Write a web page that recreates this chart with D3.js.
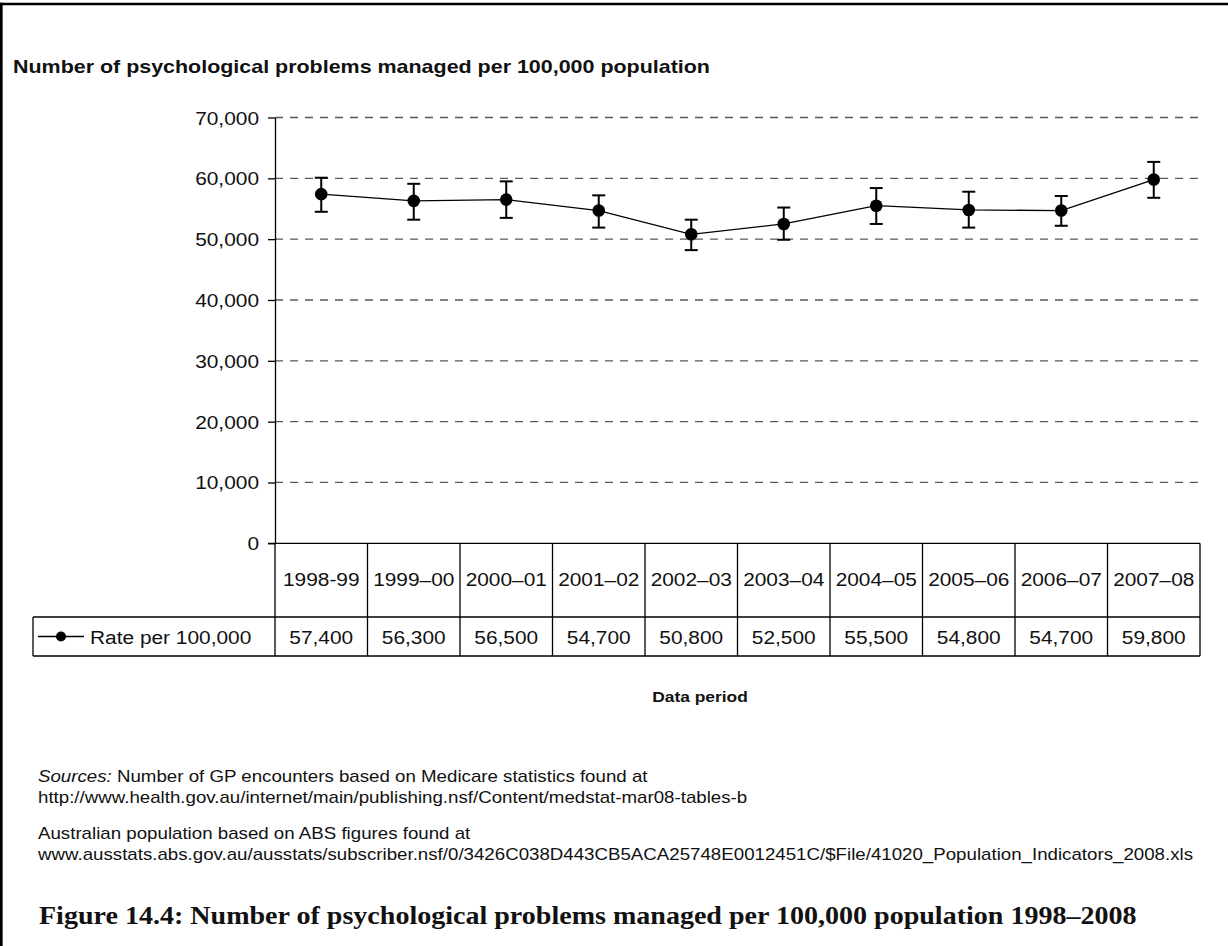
<!DOCTYPE html>
<html>
<head>
<meta charset="utf-8">
<script src="https://cdn.jsdelivr.net/npm/d3@7"></script>
<style>
  html, body { margin: 0; padding: 0; background: #fff; }
  svg { display: block; }
  text { font-family: "Liberation Sans", Arial, sans-serif; fill: #111; }
</style>
</head>
<body>
<svg id="chart" width="1228" height="946"></svg>
<script>
// Data period categories
const periods = ["1998-99", "1999–00", "2000–01", "2001–02", "2002–03",
                 "2003–04", "2004–05", "2005–06", "2006–07", "2007–08"];
// Rate per 100,000 population
const rates = [57400, 56300, 56500, 54700, 50800, 52500, 55500, 54800, 54700, 59800];
// Upper and lower 95% confidence limits
const upper = [60100, 59100, 59500, 57200, 53200, 55200, 58400, 57800, 57100, 62700];
const lower = [54500, 53200, 53500, 51900, 48200, 49900, 52500, 51900, 52200, 56800];
// Y axis ticks
const yTicks = [0, 10000, 20000, 30000, 40000, 50000, 60000, 70000];

const seriesName = "Rate per 100,000";
const chartTitle = "Number of psychological problems managed per 100,000 population";
const xTitle = "Data period";
const caption = "Figure 14.4: Number of psychological problems managed per 100,000 population 1998–2008";
const src1 = ["Sources:", " Number of GP encounters based on Medicare statistics found at"];
const src2 = "http://www.health.gov.au/internet/main/publishing.nsf/Content/medstat-mar08-tables-b";
const src3 = "Australian population based on ABS figures found at";
const src4 = "www.ausstats.abs.gov.au/ausstats/subscriber.nsf/0/3426C038D443CB5ACA25748E0012451C/$File/41020_Population_Indicators_2008.xls";

const svg = d3.select("#chart");
const SX = 1.16;           // horizontal stretch of the sans-serif lettering
const fmt = d3.format(",");

// Frame (top and left rules)
svg.append("line").attr("x1", 0).attr("x2", 1228).attr("y1", 4).attr("y2", 4)
  .attr("stroke", "#000").attr("stroke-width", 2.7);
svg.append("line").attr("x1", 1.3).attr("x2", 1.3).attr("y1", 2.7).attr("y2", 946)
  .attr("stroke", "#000").attr("stroke-width", 2.7);

// helper: stretched text
function label(parent, str, x, y, size, opts = {}) {
  const t = parent.append("text")
    .attr("transform", `translate(${x},${y}) scale(${opts.sx || SX},1)`)
    .attr("font-size", size)
    .attr("text-anchor", opts.anchor || "start");
  if (opts.weight) t.attr("font-weight", opts.weight);
  if (opts.family) t.style("font-family", opts.family);
  if (opts.style) t.attr("font-style", opts.style);
  t.text(str);
  return t;
}

// Scales
const x = d3.scaleBand().domain(periods).range([275, 1200]).paddingInner(0).paddingOuter(0);
const y = d3.scaleLinear().domain([0, 70000]).range([543.3, 117.5]);
const cx = d => x(d) + x.bandwidth() / 2;

// Chart title
label(svg, chartTitle, 13, 73, 18.5, { weight: "bold" });

// Dashed gridlines
svg.append("g").selectAll("line")
  .data(yTicks.filter(v => v > 0))
  .join("line")
  .attr("x1", 275).attr("x2", 1201)
  .attr("y1", d => y(d)).attr("y2", d => y(d))
  .attr("stroke", "#5a5a5a").attr("stroke-width", 1.3)
  .attr("stroke-dasharray", "8,7");

// Y axis
const yAxis = svg.append("g").attr("transform", "translate(275,0)")
  .call(d3.axisLeft(y).tickValues(yTicks).tickFormat(fmt).tickSize(7).tickSizeOuter(0));
yAxis.select(".domain").attr("stroke", "#000").attr("stroke-width", 1.3);
yAxis.selectAll(".tick line").attr("stroke", "#000").attr("stroke-width", 1.3);
yAxis.selectAll(".tick text")
  .attr("x", 0).attr("dy", null).attr("y", 6.5)
  .attr("transform", `translate(-16,0) scale(${SX},1)`)
  .attr("font-size", 18).attr("fill", "#111")
  .style("font-family", '"Liberation Sans", Arial, sans-serif');

// Zero line / top of the data table
svg.append("line").attr("x1", 268).attr("x2", 1200)
  .attr("y1", y(0)).attr("y2", y(0)).attr("stroke", "#000").attr("stroke-width", 1.3);

// Data table grid
const rowTop = y(0), rowMid = 617, rowBot = 656, legendLeft = 33;
const table = svg.append("g").attr("stroke", "#000").attr("stroke-width", 1.3);
table.selectAll("line.v")
  .data(periods.map(p => x(p)).concat([x.range()[1]]))
  .join("line").attr("class", "v")
  .attr("x1", d => d).attr("x2", d => d).attr("y1", rowTop).attr("y2", rowBot);
table.append("line").attr("x1", legendLeft).attr("x2", 1200).attr("y1", rowMid).attr("y2", rowMid);
table.append("line").attr("x1", legendLeft).attr("x2", 1200).attr("y1", rowBot).attr("y2", rowBot);
table.append("line").attr("x1", legendLeft).attr("x2", legendLeft).attr("y1", rowMid).attr("y2", rowBot);

// Category labels and values
periods.forEach((p, i) => {
  label(svg, p, cx(p), 586, 18, { anchor: "middle" });
  label(svg, fmt(rates[i]), cx(p), 644, 18, { anchor: "middle" });
});

// Legend key
const ly = (rowMid + rowBot) / 2;
svg.append("line").attr("x1", 38).attr("x2", 84).attr("y1", ly).attr("y2", ly)
  .attr("stroke", "#000").attr("stroke-width", 1.3);
svg.append("circle").attr("cx", 61).attr("cy", ly).attr("r", 5).attr("fill", "#000");
label(svg, seriesName, 90, 644, 18);

// Error bars
const eb = svg.append("g").attr("stroke", "#000").attr("stroke-width", 2);
periods.forEach((p, i) => {
  const X = cx(p);
  eb.append("line").attr("x1", X).attr("x2", X).attr("y1", y(upper[i])).attr("y2", y(lower[i]));
  eb.append("line").attr("x1", X - 6.5).attr("x2", X + 6.5).attr("y1", y(upper[i])).attr("y2", y(upper[i]));
  eb.append("line").attr("x1", X - 6.5).attr("x2", X + 6.5).attr("y1", y(lower[i])).attr("y2", y(lower[i]));
});

// Series line and markers
const line = d3.line().x((d, i) => cx(periods[i])).y(d => y(d));
svg.append("path").datum(rates).attr("d", line)
  .attr("fill", "none").attr("stroke", "#000").attr("stroke-width", 1.3);
svg.append("g").selectAll("circle").data(rates).join("circle")
  .attr("cx", (d, i) => cx(periods[i])).attr("cy", d => y(d)).attr("r", 6.3).attr("fill", "#000");

// X axis title
label(svg, xTitle, 700, 702, 15, { anchor: "middle", weight: "bold" });

// Source notes: fit the long address line to its width and reuse the stretch
const srcSize = 16;
const probe = label(svg, src4, 38, 860, srcSize, { sx: 1 });
const srcSX = 1156 / probe.node().getComputedTextLength();
probe.attr("transform", `translate(38,860) scale(${srcSX},1)`);
const s1 = label(svg, "", 38, 782, srcSize, { sx: srcSX });
s1.append("tspan").attr("font-style", "italic").text(src1[0]);
s1.append("tspan").text(src1[1]);
label(svg, src2, 38, 803, srcSize, { sx: srcSX });
label(svg, src3, 38, 839, srcSize, { sx: srcSX });

// Figure caption
const cap = label(svg, caption, 39, 924, 26,
  { sx: 1, weight: "bold", family: '"Liberation Serif", "DejaVu Serif", serif' });
const capSX = 1098 / cap.node().getComputedTextLength();
cap.attr("transform", `translate(39,924) scale(${capSX},1)`);
</script>
</body>
</html>
